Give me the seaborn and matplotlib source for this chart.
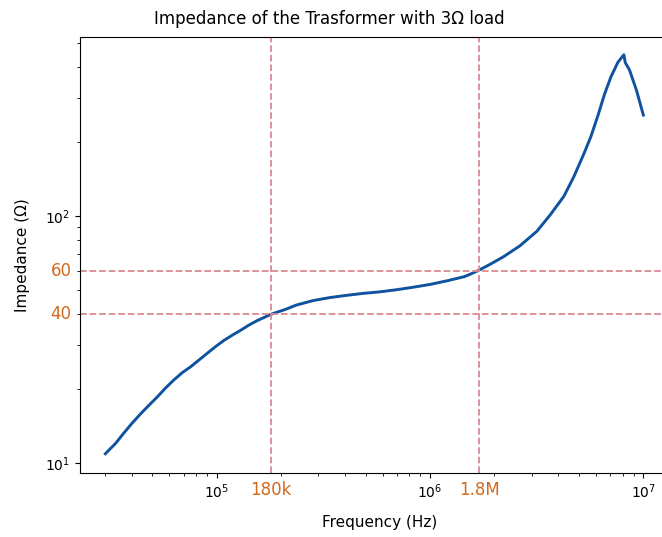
import numpy as np
import pandas as pd
import matplotlib
matplotlib.use("Agg")
import matplotlib.pyplot as plt
import matplotlib.transforms as mtransforms
import seaborn as sns

# Impedance readings (Hz, Ohm) picked off the measured curve
freq_hz = [30.1e3, 33.6e3, 36.7e3, 40.2e3, 44.0e3, 48.1e3, 52.7e3, 57.6e3, 63.1e3, 69.0e3,
           75.5e3, 82.6e3, 90.4e3, 98.9e3, 108e3, 119e3, 130e3, 142e3, 155e3, 170e3,
           180e3, 211e3, 235e3, 282e3, 338e3, 406e3, 487e3, 584e3, 700e3, 840e3,
           1.01e6, 1.21e6, 1.45e6, 1.53e6, 1.675e6, 1.90e6, 2.20e6, 2.64e6, 3.17e6, 3.66e6,
           4.24e6, 4.72e6, 5.27e6, 5.67e6, 6.10e6, 6.56e6, 7.05e6, 7.59e6, 7.93e6, 8.11e6,
           8.22e6, 8.61e6, 9.27e6, 10.0e6]
impedance_ohm = [10.9, 12.0, 13.2, 14.5, 15.8, 17.1, 18.5, 20.1, 21.7, 23.2,
                 24.5, 26.1, 27.8, 29.6, 31.3, 33.0, 34.5, 36.2, 37.7, 39.1,
                 40.0, 41.9, 43.5, 45.4, 46.7, 47.7, 48.6, 49.3, 50.3, 51.5,
                 52.9, 54.7, 56.8, 57.9, 60.0, 63.5, 68.2, 75.7, 86.7, 101,
                 120, 144, 179, 209, 252, 309, 366, 418, 439, 449,
                 418, 390, 324, 256]

marker_freqs = [180e3, 1.7e6]
marker_freq_labels = ["180k", "1.8M"]
marker_imps = [40, 60]
marker_imp_labels = ["40", "60"]

df = pd.DataFrame({"Frequency (Hz)": freq_hz, "Impedance (Ω)": impedance_ohm})

fig = plt.figure(figsize=(6.62, 5.37), dpi=100)
ax = fig.add_axes([80 / 662, 64 / 537, 600 / 662, 436 / 537])

sns.lineplot(data=df, x="Frequency (Hz)", y="Impedance (Ω)", ax=ax,
             color="#0f52a0", lw=2.1, sort=False, estimator=None)
ax.set_xscale("log")
ax.set_yscale("log")
ax.set_xlim(2.29e4, 1.485e7)
ax.set_ylim(9.11, 530)

guide = dict(color="#d98a92", ls="--", lw=1.3)
for f in marker_freqs:
    ax.axvline(f, **guide)
for z in marker_imps:
    ax.axhline(z, **guide)

orange = "#d2691e"
xtrans = mtransforms.blended_transform_factory(ax.transData, ax.transAxes)
for f, lab in zip(marker_freqs, marker_freq_labels):
    ax.text(f, -0.039, lab, transform=xtrans, ha="center", va="center",
            color=orange, fontsize=12)
ytrans = mtransforms.blended_transform_factory(ax.transAxes, ax.transData)
for z, lab in zip(marker_imps, marker_imp_labels):
    ax.text(-0.014, z, lab, transform=ytrans, ha="right", va="center",
            color=orange, fontsize=12)

ax.set_title("Impedance of the Trasformer with 3Ω load", fontsize=12,
             x=(329 - 80) / 600, pad=9)
ax.set_xlabel("Frequency (Hz)", fontsize=11, labelpad=10)
ax.set_ylabel("Impedance (Ω)", fontsize=11, labelpad=11)

fig.savefig("out.png", dpi=100)
